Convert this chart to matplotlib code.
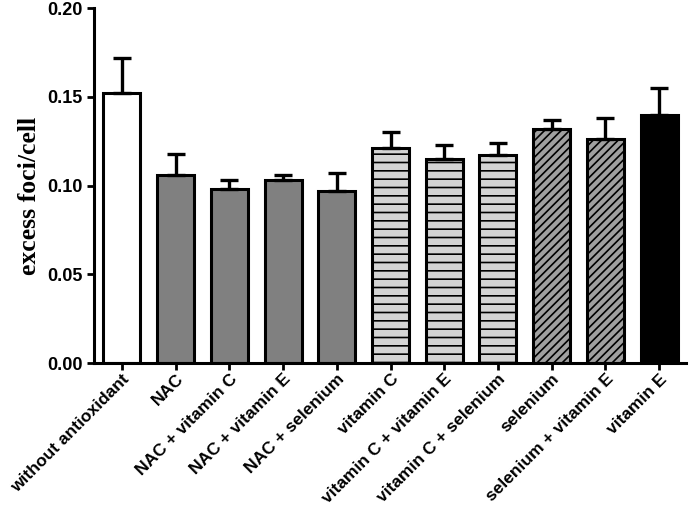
import matplotlib.pyplot as plt
import numpy as np

labels = ['without antioxidant', 'NAC', 'NAC + vitamin C', 'NAC + vitamin E',
          'NAC + selenium', 'vitamin C', 'vitamin C + vitamin E',
          'vitamin C + selenium', 'selenium', 'selenium + vitamin E', 'vitamin E']
means = [0.152, 0.106, 0.098, 0.103, 0.097, 0.121, 0.115, 0.117, 0.132, 0.126, 0.140]
errs = [0.020, 0.012, 0.005, 0.003, 0.010, 0.009, 0.008, 0.007, 0.005, 0.012, 0.015]
colors = ['white', '#808080', '#808080', '#808080', '#808080',
          '#d4d4d4', '#d4d4d4', '#d4d4d4', '#a0a0a0', '#a0a0a0', 'black']
hatches = ['', '', '', '', '', '--', '--', '--', '////', '////', '']

plt.rcParams['hatch.linewidth'] = 1.2
fig = plt.figure(figsize=(6.89, 5.11), dpi=100)
ax = fig.add_axes([0.1364, 0.2896, 0.8592, 0.6947])

x = np.arange(len(labels))
bars = ax.bar(x, means, width=0.69, color=colors, edgecolor='black', linewidth=2.2,
              yerr=[np.zeros(len(errs)), errs],
              error_kw=dict(ecolor='black', elinewidth=2.4, capsize=6.5, capthick=2.4),
              zorder=2)
for b, h in zip(bars, hatches):
    b.set_hatch(h)

ax.set_xlim(-0.52, 10.5)
ax.set_ylim(0, 0.20)
ax.set_yticks([0, 0.05, 0.10, 0.15, 0.20])
ax.set_yticklabels(['0.00', '0.05', '0.10', '0.15', '0.20'],
                   fontfamily='Liberation Sans', fontweight='bold', fontsize=13)
ax.set_xticks(x)
ax.set_xticklabels(labels, rotation=45, ha='right', rotation_mode='anchor',
                   fontfamily='Liberation Sans', fontweight='bold', fontsize=12.5)
ax.tick_params(width=2, length=5, direction='out', pad=3)
ax.tick_params(axis='x', pad=1)
ax.spines['top'].set_visible(False)
ax.spines['right'].set_visible(False)
ax.spines['left'].set_linewidth(2.2)
ax.spines['bottom'].set_linewidth(2.2)
ax.set_ylabel('excess foci/cell', fontfamily='Liberation Serif', fontweight='bold',
              fontsize=18.5)
ax.yaxis.set_label_coords(-0.09, 0.47)

fig.savefig('out.png', dpi=100)
